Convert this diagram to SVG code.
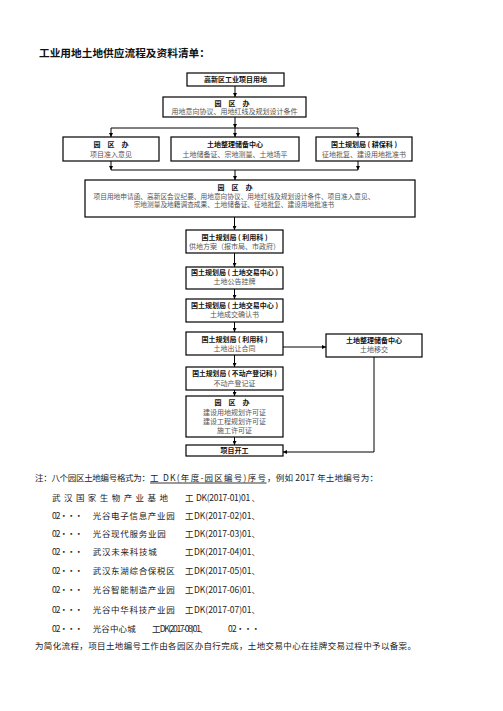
<svg xmlns="http://www.w3.org/2000/svg" width="503" height="711" viewBox="0 0 503 711">
<style>
.box{fill:#fff;stroke:#000;stroke-width:1.2}
.t{font-family:"Noto Sans CJK SC","Liberation Sans",sans-serif;font-size:7px;font-weight:bold;fill:#111;text-anchor:middle}
.b{font-family:"Noto Sans CJK SC","Liberation Serif",serif;font-size:7px;fill:#555;text-anchor:middle}
.c{fill:none;stroke:#000;stroke-width:1}
.n{font-family:"Noto Sans CJK SC","Liberation Serif",serif;font-size:8.5px;fill:#222}
</style>
<defs>
<marker id="ah" viewBox="0 0 6 6" markerWidth="4" markerHeight="4" refX="6" refY="3" orient="auto" markerUnits="userSpaceOnUse">
<path d="M0,0 L6,3 L0,6 z" fill="#000"/>
</marker>
</defs>
<rect width="503" height="711" fill="#fff"/>
<text x="39" y="57" font-family="'Noto Sans CJK SC',sans-serif" font-size="10.7" font-weight="bold" fill="#111" textLength="171" lengthAdjust="spacingAndGlyphs">工业用地土地供应流程及资料清单：</text>

<g id="connectors">
<line class="c" x1="235" y1="86" x2="235" y2="97" marker-end="url(#ah)"/>
<line class="c" x1="235" y1="117" x2="235" y2="128" marker-end="url(#ah)"/>
<line class="c" x1="111" y1="128" x2="358" y2="128"/>
<line class="c" x1="111" y1="128" x2="111" y2="137" marker-end="url(#ah)"/>
<line class="c" x1="235" y1="128" x2="235" y2="137" marker-end="url(#ah)"/>
<line class="c" x1="358" y1="128" x2="358" y2="137" marker-end="url(#ah)"/>
<line class="c" x1="111" y1="161" x2="111" y2="170" marker-end="url(#ah)"/>
<line class="c" x1="358" y1="161" x2="358" y2="170" marker-end="url(#ah)"/>
<line class="c" x1="111" y1="170" x2="358" y2="170"/>
<line class="c" x1="235" y1="170" x2="235" y2="180" marker-end="url(#ah)"/>
<line class="c" x1="234.5" y1="217" x2="234.5" y2="230" marker-end="url(#ah)"/>
<line class="c" x1="234.5" y1="253" x2="234.5" y2="267" marker-end="url(#ah)"/>
<line class="c" x1="234.5" y1="289" x2="234.5" y2="299" marker-end="url(#ah)"/>
<line class="c" x1="234.5" y1="322" x2="234.5" y2="332" marker-end="url(#ah)"/>
<line class="c" x1="234.5" y1="355" x2="234.5" y2="367" marker-end="url(#ah)"/>
<line class="c" x1="234.5" y1="390" x2="234.5" y2="396" marker-end="url(#ah)"/>
<line class="c" x1="234.5" y1="437" x2="234.5" y2="445" marker-end="url(#ah)"/>
<line class="c" x1="283" y1="347" x2="326" y2="347" marker-end="url(#ah)"/>
<polyline class="c" points="374,357 374,452 283,452" marker-end="url(#ah)"/>
</g>

<g id="n1"><rect class="box" x="187" y="73" width="97" height="13"/><text class="t" x="235.5" y="82">高新区工业项目用地</text></g>
<g id="n2"><rect class="box" x="163" y="97" width="143" height="20"/><text class="t" x="232" y="105.5">园　区　办</text><text class="b" x="234.5" y="114">用地意向协议、用地红线及规划设计条件</text></g>
<g id="n3"><rect class="box" x="63" y="137" width="96" height="24"/><text class="t" x="111" y="147">园　区　办</text><text class="b" x="111" y="156.5">项目准入意见</text></g>
<g id="n4"><rect class="box" x="171" y="137" width="128" height="24"/><text class="t" x="235" y="147">土地整理储备中心</text><text class="b" x="235" y="156.5">土地储备证、宗地测量、土地场平</text></g>
<g id="n5"><rect class="box" x="316" y="137" width="96" height="24"/><text class="t" x="364" y="147">国土规划局 ( 耕保科 )</text><text class="b" x="364" y="156.5">征地批复、建设用地批准书</text></g>
<g id="n6"><rect class="box" x="85" y="180" width="330" height="37"/><text class="t" x="235" y="190">园　区　办</text><text class="b" x="234" y="198.5" style="font-size:6.7px">项目用地申请函、高新区会议纪要、用地意向协议、用地红线及规划设计条件、项目准入意见、</text><text class="b" x="234" y="207" style="font-size:6.7px">宗地测量及地籍调查成果、土地储备证、征地批复、建设用地批准书</text></g>
<g id="n7"><rect class="box" x="186" y="230" width="97" height="23"/><text class="t" x="234.5" y="239.5">国土规划局 ( 利用科 )</text><text class="b" x="234.5" y="249">供地方案（报市局、市政府）</text></g>
<g id="n8"><rect class="box" x="186" y="267" width="97" height="22"/><text class="t" x="234.5" y="275">国土规划局 ( 土地交易中心 )</text><text class="b" x="234.5" y="284">土地公告挂牌</text></g>
<g id="n9"><rect class="box" x="186" y="299" width="97" height="23"/><text class="t" x="234.5" y="307.5">国土规划局 ( 土地交易中心 )</text><text class="b" x="234.5" y="317">土地成交确认书</text></g>
<g id="n10"><rect class="box" x="186" y="332" width="97" height="23"/><text class="t" x="234.5" y="341.5">国土规划局 ( 利用科 )</text><text class="b" x="234.5" y="351">土地出让合同</text></g>
<g id="n11"><rect class="box" x="186" y="367" width="97" height="23"/><text class="t" x="234.5" y="376" style="font-size:6.8px">国土规划局 ( 不动产登记科 )</text><text class="b" x="234.5" y="386">不动产登记证</text></g>
<g id="n12"><rect class="box" x="186" y="396" width="97" height="41"/><text class="t" x="232" y="405">园　区　办</text><text class="b" x="234.5" y="414.5">建设用地规划许可证</text><text class="b" x="234.5" y="424">建设工程规划许可证</text><text class="b" x="234.5" y="432.5">施工许可证</text></g>
<g id="n13"><rect class="box" x="186" y="445" width="97" height="11"/><text class="t" x="234.5" y="453">项目开工</text></g>
<g id="n14"><rect class="box" x="326" y="334" width="96" height="23"/><text class="t" x="374" y="342.5">土地整理储备中心</text><text class="b" x="374" y="352">土地移交</text></g>

<g id="notes">
<text class="n" x="35" y="481" textLength="115" lengthAdjust="spacing">注：八个园区土地编号格式为：</text>
<text class="n" x="150" y="481" textLength="116" lengthAdjust="spacing">工 DK(年度-园区编号)序号</text>
<line x1="150" y1="483" x2="266.5" y2="483" stroke="#000" stroke-width="0.8"/>
<text class="n" x="267" y="481" textLength="111" lengthAdjust="spacing">，例如 2017 年土地编号为：</text>

<text class="n" x="52" y="501" textLength="116" lengthAdjust="spacing">武汉国家生物产业基地</text>
<text class="n" x="185" y="501">工</text>
<text class="n" x="196" y="501" textLength="64" lengthAdjust="spacing">DK(2017-01)01 、</text>

<text class="n" x="52" y="519" textLength="31" lengthAdjust="spacing">02・・・</text>
<text class="n" x="92.7" y="519" textLength="82" lengthAdjust="spacing">光谷电子信息产业园</text>
<text class="n" x="185" y="519">工</text>
<text class="n" x="194" y="519" textLength="66" lengthAdjust="spacing">DK(2017-02)01、</text>

<text class="n" x="52" y="537" textLength="31" lengthAdjust="spacing">02・・・</text>
<text class="n" x="92.7" y="537" textLength="73" lengthAdjust="spacing">光谷现代服务业园</text>
<text class="n" x="185" y="537">工</text>
<text class="n" x="194" y="537" textLength="66" lengthAdjust="spacing">DK(2017-03)01、</text>

<text class="n" x="52" y="555" textLength="31" lengthAdjust="spacing">02・・・</text>
<text class="n" x="92.7" y="555" textLength="64" lengthAdjust="spacing">武汉未来科技城</text>
<text class="n" x="185" y="555">工</text>
<text class="n" x="194" y="555" textLength="66" lengthAdjust="spacing">DK(2017-04)01、</text>

<text class="n" x="52" y="573.5" textLength="31" lengthAdjust="spacing">02・・・</text>
<text class="n" x="92.7" y="573.5" textLength="82" lengthAdjust="spacing">武汉东湖综合保税区</text>
<text class="n" x="185" y="573.5">工</text>
<text class="n" x="194" y="573.5" textLength="66" lengthAdjust="spacing">DK(2017-05)01、</text>

<text class="n" x="52" y="593" textLength="31" lengthAdjust="spacing">02・・・</text>
<text class="n" x="92.7" y="593" textLength="82" lengthAdjust="spacing">光谷智能制造产业园</text>
<text class="n" x="185" y="593">工</text>
<text class="n" x="194" y="593" textLength="66" lengthAdjust="spacing">DK(2017-06)01、</text>

<text class="n" x="52" y="612.5" textLength="31" lengthAdjust="spacing">02・・・</text>
<text class="n" x="92.7" y="612.5" textLength="82" lengthAdjust="spacing">光谷中华科技产业园</text>
<text class="n" x="185" y="612.5">工</text>
<text class="n" x="194" y="612.5" textLength="66" lengthAdjust="spacing">DK(2017-07)01、</text>

<text class="n" x="52" y="631.5" textLength="31" lengthAdjust="spacing">02・・・</text>
<text class="n" x="92.7" y="631.5" textLength="43" lengthAdjust="spacing">光谷中心城</text>
<text class="n" x="152" y="631.5" textLength="56" lengthAdjust="spacing">工 DK(2017-08)01、</text>
<text class="n" x="228" y="631.5" textLength="32" lengthAdjust="spacing">02・・・</text>

<text class="n" x="35" y="648.5" textLength="381" lengthAdjust="spacing">为简化流程，项目土地编号工作由各园区办自行完成，土地交易中心在挂牌交易过程中予以备案。</text>
</g>
</svg>
